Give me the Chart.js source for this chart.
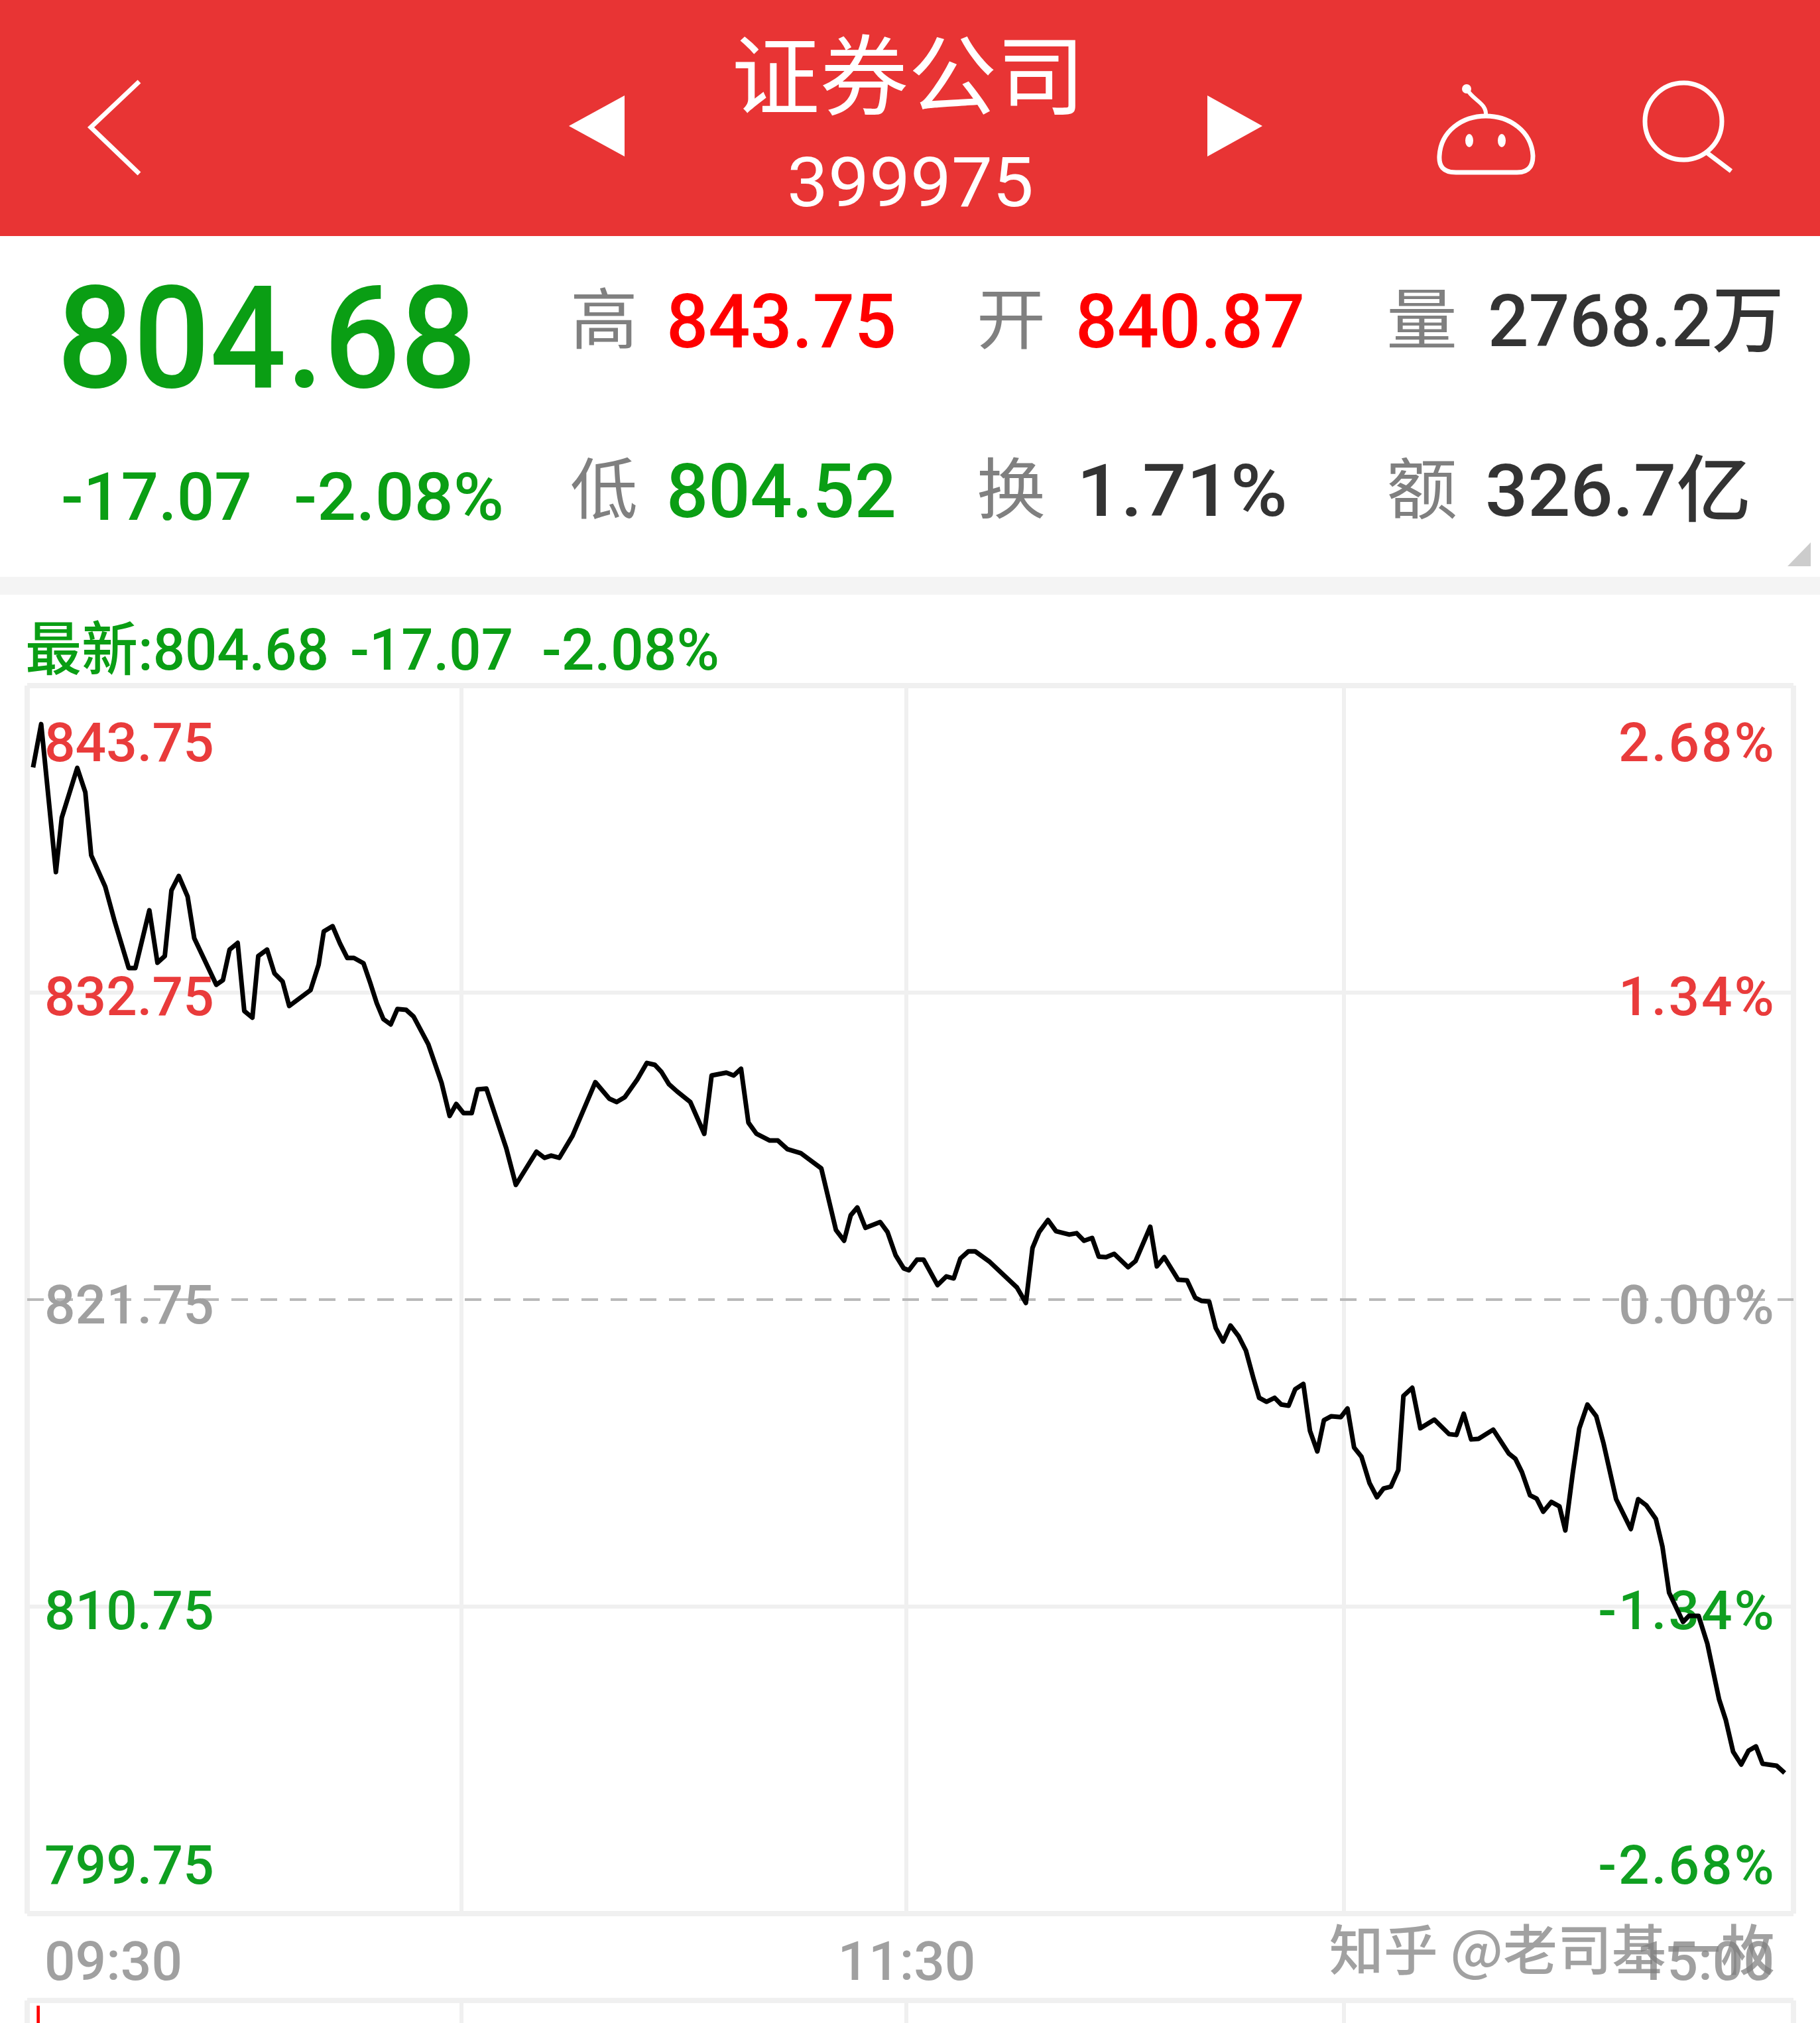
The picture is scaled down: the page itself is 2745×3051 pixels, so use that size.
<!DOCTYPE html>
<html lang="zh">
<head>
<meta charset="utf-8">
<title>证券公司 399975</title>
<script src="https://cdn.jsdelivr.net/npm/chart.js@4"></script>
<style>
    html, body { margin: 0; padding: 0; background: #fff; }
    #page { position: relative; width: 2745px; height: 3051px; overflow: hidden; background: #fff; }
    #topbar { position: absolute; left: 0; top: 0; width: 2745px; height: 356px; background: #e83434; }
    #band { position: absolute; left: 0; top: 870px; width: 2745px; height: 27px; background: #f4f4f4; }
    #icons { position: absolute; left: 0; top: 0; }
    #priceChart { position: absolute; left: 0; top: 900px; }
    #volumeChart { position: absolute; left: 0; top: 3011px; }
    .txt {
        position: absolute; line-height: 1; white-space: nowrap;
        font-family: Roboto, "Noto Sans CJK SC", sans-serif;
        transform-origin: left center;
    }
</style>
</head>
<body>
<div id="page">
    <div id="topbar"></div>
    <div id="band"></div>
    <svg id="icons" width="2745" height="900">
        <polyline points="210,123 137,192 210,262" fill="none" stroke="#fff" stroke-width="7"/>
        <polygon points="858,190 942,144 942,236" fill="#fff"/>
        <polygon points="1904,190 1821,144 1821,236" fill="#fff"/>
        <path d="M2241 175 C2205 175 2173 198 2171 235 C2170 250 2176 260 2196 260 L2288 260 C2306 260 2312 250 2312 235 C2310 198 2277 175 2241 175 Z" fill="none" stroke="#fff" stroke-width="7"/>
        <path d="M2241 175 C2243 155 2222 152 2212 134" fill="none" stroke="#fff" stroke-width="6"/>
        <circle cx="2212" cy="134" r="7" fill="#fff"/>
        <ellipse cx="2216" cy="212" rx="6" ry="10" fill="#fff"/>
        <ellipse cx="2265" cy="212" rx="6" ry="10" fill="#fff"/>
        <circle cx="2539" cy="183" r="58" fill="none" stroke="#fff" stroke-width="7"/>
        <line x1="2574" y1="230" x2="2611" y2="258" stroke="#fff" stroke-width="7"/>
        <polygon points="2731,818 2731,854 2696,854" fill="#ccc"/>
    </svg>
    <canvas id="priceChart" width="2745" height="2100"></canvas>
    <canvas id="volumeChart" width="2745" height="40"></canvas>
</div>

<script>
// Intraday line (minutes since the open, index points)
const priceMinutes = [0.8, 1.9, 3.9, 4.7, 6.8, 7.9, 8.7, 10.6, 11.9, 13.8, 14.7, 16.6, 17.7, 18.7, 19.6, 20.6, 21.8, 22.7, 25.7, 26.6,
    27.5, 28.6, 29.5, 30.6, 31.4, 32.6, 33.6, 34.7, 35.6, 38.5, 39.6, 40.3, 41.5, 42.5, 43.5, 44.4, 45.7, 46.6, 47.5, 48.4,
    49.4, 50.3, 51.5, 52.5, 54.5, 56.3, 57.4, 58.3, 59.3, 60.4, 61.2, 62.4, 65.1, 66.4, 69.2, 70.3, 71.2, 72.3, 74.1, 77.2,
    79.1, 80.1, 81.2, 82.9, 84.2, 85.3, 86.2, 87.2, 88.3, 90.1, 92.0, 93.0, 95.0, 96.0, 97.0, 98.0, 99.1, 100.9, 102.0, 103.3,
    105.1, 107.9, 109.9, 111.0, 111.9, 112.8, 113.9, 115.9, 116.9, 118.0, 119.1, 119.8, 120.9, 121.8, 123.7, 124.9, 125.9, 126.8, 127.9, 128.8,
    130.8, 134.5, 135.7, 136.6, 137.5, 138.7, 139.8, 141.6, 142.6, 143.6, 144.7, 145.6, 146.6, 147.7, 149.6, 150.6, 152.6, 153.5, 154.5, 156.4,
    157.6, 158.7, 159.6, 160.6, 161.5, 162.5, 163.5, 164.6, 165.6, 166.6, 167.4, 168.4, 169.5, 170.4, 171.4, 172.3, 173.4, 174.3, 175.3, 176.2,
    177.2, 178.5, 179.4, 180.3, 181.3, 182.4, 183.4, 184.3, 185.3, 186.3, 187.0, 188.2, 189.3, 191.2, 193.2, 194.2, 195.2, 196.2, 197.2, 199.2,
    201.3, 202.2, 203.1, 204.2, 205.1, 206.0, 207.1, 208.2, 209.0, 210.0, 210.9, 212.0, 213.2, 214.2, 215.9, 217.9, 218.9, 220.0, 221.3, 222.2,
    223.1, 225.0, 225.8, 227.1, 228.3, 229.9, 230.8, 231.8, 232.9, 233.9, 234.9, 235.8, 237.7, 238.8];
const prices = [840.82, 842.37, 837.07, 839.02, 840.80, 839.93, 837.67, 836.55, 835.29, 833.63, 833.63, 835.70, 833.82, 834.06, 836.41, 836.93, 836.19, 834.70, 833.03, 833.20,
    834.29, 834.53, 832.09, 831.85, 834.06, 834.29, 833.44, 833.15, 832.27, 832.84, 833.75, 834.94, 835.13, 834.51, 833.99, 833.99, 833.80, 833.11, 832.37, 831.80,
    831.61, 832.16, 832.13, 831.89, 830.90, 829.52, 828.33, 828.76, 828.43, 828.43, 829.28, 829.31, 827.17, 825.86, 827.05, 826.83, 826.91, 826.83, 827.62, 829.54,
    828.95, 828.83, 829.00, 829.64, 830.23, 830.16, 829.90, 829.47, 829.21, 828.83, 827.69, 829.78, 829.88, 829.78, 830.02, 828.09, 827.69, 827.45, 827.45, 827.14,
    827.00, 826.45, 824.24, 823.86, 824.77, 825.05, 824.32, 824.53, 824.17, 823.34, 822.87, 822.80, 823.18, 823.18, 822.27, 822.58, 822.51, 823.22, 823.48, 823.48,
    823.10, 822.18, 821.63, 823.60, 824.17, 824.60, 824.20, 824.08, 824.13, 823.86, 823.96, 823.29, 823.27, 823.39, 822.91, 823.13, 824.36, 822.94, 823.27, 822.46,
    822.44, 821.82, 821.70, 821.68, 820.73, 820.25, 820.82, 820.44, 819.92, 818.95, 818.23, 818.09, 818.23, 817.99, 817.95, 818.54, 818.73, 817.05, 816.31, 817.43,
    817.57, 817.54, 817.85, 816.45, 816.12, 815.17, 814.67, 814.98, 815.05, 815.64, 818.30, 818.59, 817.14, 817.45, 816.93, 816.90, 817.66, 816.74, 816.76, 817.09,
    816.24, 816.05, 815.57, 814.74, 814.62, 814.15, 814.50, 814.34, 813.48, 815.52, 817.14, 817.99, 817.57, 816.59, 814.60, 813.53, 814.60, 814.38, 813.89, 812.89,
    811.25, 810.20, 810.42, 810.42, 809.42, 807.42, 806.69, 805.55, 805.09, 805.59, 805.74, 805.12, 805.05, 804.79];

// Axis ticks
const priceTicks = [843.75, 832.75, 821.75, 810.75, 799.75];
const priceLabels = ['843.75', '832.75', '821.75', '810.75', '799.75'];
const percentLabels = ['2.68%', '1.34%', '0.00%', '-1.34%', '-2.68%'];
const gridMinutes = [0, 59, 119.5, 178.9, 240];
const timeMinutes = [0, 119.5, 240];
const timeLabels = ['09:30', '11:30', '15:00'];

// Volume panel below, only the top of the first bar is in the picture
const volumeMinutes = [1.5];
const volumeShares = [0.76];

const prevClose = 821.75;
const RED = '#e93b3b', GREEN = '#0f9f20', GRAY = '#a0a0a0', GRID = '#f0f0f0';

// Text around the chart: [text, left, right, centre y, font size, colour, weight]
const headerTexts = [
    ['证券公司', 1103, 1637, 118, 132, '#fff', 400],
    ['399975', 1187, 1559, 275, 103, '#fff', 400],
    ['804.68', 86, 719, 511, 216, '#0a9e14', 500],
    ['-17.07', 92, 380, 750, 100, '#0a9e14', 500],
    ['-2.08%', 443, 760, 750, 100, '#0a9e14', 500],
    ['高', 860, 962, 484, 100, '#808080', 400],
    ['843.75', 1005, 1352, 485, 114, '#f00', 500],
    ['开', 1473, 1577, 484, 100, '#808080', 400],
    ['840.87', 1622, 1968, 485, 114, '#f00', 500],
    ['量', 2091, 2198, 484, 100, '#808080', 400],
    ['2768.2万', 2244, 2691, 485, 110, '#333', 500],
    ['低', 860, 962, 740, 100, '#808080', 400],
    ['804.52', 1005, 1352, 741, 114, '#0a9e14', 500],
    ['换', 1473, 1577, 740, 100, '#808080', 400],
    ['1.71%', 1624, 1942, 741, 110, '#333', 500],
    ['额', 2091, 2198, 740, 100, '#808080', 400],
    ['326.7亿', 2240, 2641, 741, 110, '#333', 500],
    ['最新:804.68', 38, 496, 980, 88, '#0a9e14', 500],
    ['-17.07', 528, 774, 980, 88, '#0a9e14', 500],
    ['-2.08%', 817, 1085, 980, 88, '#0a9e14', 500]
];

// Place a text so it fills its left..right span
function placeText(item) {
    const el = document.createElement('div');
    el.className = 'txt';
    el.textContent = item[0];
    el.style.left = item[1] + 'px';
    el.style.top = (item[3] - item[4] / 2) + 'px';
    el.style.fontSize = item[4] + 'px';
    el.style.color = item[5];
    el.style.fontWeight = item[6];
    document.getElementById('page').appendChild(el);
    const k = (item[2] - item[1]) / el.getBoundingClientRect().width;
    el.style.transform = 'scaleX(' + k.toFixed(3) + ')';
}
headerTexts.forEach(placeText);

// Labels sit inside the plot and the outer ones are pulled in from the frame
const labelShift = [93, 13, 15, 13, -66];

const axisLabels = {
    id: 'axisLabels',
    beforeDatasetsDraw(chart) {
        const ctx = chart.ctx;
        const x = chart.scales.x, y = chart.scales.y;
        ctx.save();
        ctx.font = '500 82px Roboto';
        ctx.textBaseline = 'middle';
        priceTicks.forEach((v, i) => {
            const py = y.getPixelForValue(v) + labelShift[i];
            ctx.fillStyle = v > prevClose ? RED : (v < prevClose ? GREEN : GRAY);
            ctx.textAlign = 'left';
            ctx.letterSpacing = '0px';
            ctx.fillText(priceLabels[i], x.left + 26, py);
            ctx.textAlign = 'right';
            ctx.letterSpacing = '3px';
            ctx.fillText(percentLabels[i], x.right - 26, py);
        });
        ctx.letterSpacing = '0px';
        ctx.fillStyle = GRAY;
        timeMinutes.forEach((m, i) => {
            const px = x.getPixelForValue(m);
            ctx.textAlign = i === 0 ? 'left' : (i === timeMinutes.length - 1 ? 'right' : 'center');
            const off = i === 0 ? 26 : (i === timeMinutes.length - 1 ? -29 : 0);
            ctx.fillText(timeLabels[i], px + off, y.bottom + 79);
        });
        ctx.restore();
    },
    afterDraw(chart) {
        // zhihu watermark over the last time label
        const ctx = chart.ctx;
        ctx.save();
        ctx.font = '500 82px "Noto Sans CJK SC"';
        ctx.textBaseline = 'middle';
        ctx.textAlign = 'right';
        ctx.fillStyle = 'rgba(125,125,125,0.72)';
        ctx.fillText('知乎 @老司基一枚', chart.scales.x.right - 28, chart.scales.y.bottom + 54);
        ctx.restore();
    }
};

// Grid ticks for both charts
function setTicks(values) {
    return function(scale) {
        scale.ticks = values.map(v => ({ value: v }));
    };
}

function timeAxis() {
    return {
        type: 'linear',
        min: 0,
        max: 240,
        offset: false,
        afterBuildTicks: setTicks(gridMinutes),
        ticks: { display: false },
        border: { display: false },
        grid: {
            offset: false,
            drawTicks: false,
            color: GRID,
            lineWidth: ctx => (ctx.tick && (ctx.tick.value === 0 || ctx.tick.value === 240)) ? 8 : 6
        }
    };
}

// Price line chart
new Chart(document.getElementById('priceChart'), {
    type: 'line',
    data: {
        datasets: [{
            label: '证券公司',
            data: priceMinutes.map((m, i) => ({ x: m, y: prices[i] })),
            borderColor: '#000',
            borderWidth: 7,
            borderJoinStyle: 'round',
            tension: 0,
            pointRadius: 0
        }]
    },
    options: {
        responsive: false,
        animation: false,
        layout: { padding: { left: 41, right: 40, top: 134, bottom: 114 } },
        plugins: { legend: { display: false }, tooltip: { enabled: false } },
        scales: {
            x: timeAxis(),
            y: {
                type: 'linear',
                min: priceTicks[4],
                max: priceTicks[0],
                afterBuildTicks: setTicks(priceTicks),
                ticks: { display: false },
                border: {
                    display: false,
                    dash: ctx => (ctx.tick && ctx.tick.value === prevClose) ? [25, 19] : []
                },
                grid: {
                    drawTicks: false,
                    color: ctx => (ctx.tick && ctx.tick.value === prevClose) ? '#b9b9b9' : GRID,
                    lineWidth: ctx => {
                        if (!ctx.tick) return 6;
                        if (ctx.tick.value === prevClose) return 4;
                        return (ctx.tick.value === priceTicks[0] || ctx.tick.value === priceTicks[4]) ? 8 : 6;
                    }
                }
            }
        }
    },
    plugins: [axisLabels]
});

// Volume panel, cut off by the bottom of the screenshot
new Chart(document.getElementById('volumeChart'), {
    type: 'bar',
    data: {
        datasets: [{
            label: '成交量',
            data: volumeMinutes.map((m, i) => ({ x: m, y: volumeShares[i] })),
            backgroundColor: '#f00',
            barThickness: 4
        }]
    },
    options: {
        responsive: false,
        animation: false,
        layout: { padding: { left: 41, right: 40, top: 6, bottom: 0 } },
        plugins: { legend: { display: false }, tooltip: { enabled: false } },
        scales: {
            x: timeAxis(),
            y: {
                type: 'linear',
                min: 0,
                max: 1,
                afterBuildTicks: setTicks([1]),
                ticks: { display: false },
                border: { display: false },
                grid: { drawTicks: false, color: GRID, lineWidth: 8 }
            }
        }
    }
});
</script>
</body>
</html>
